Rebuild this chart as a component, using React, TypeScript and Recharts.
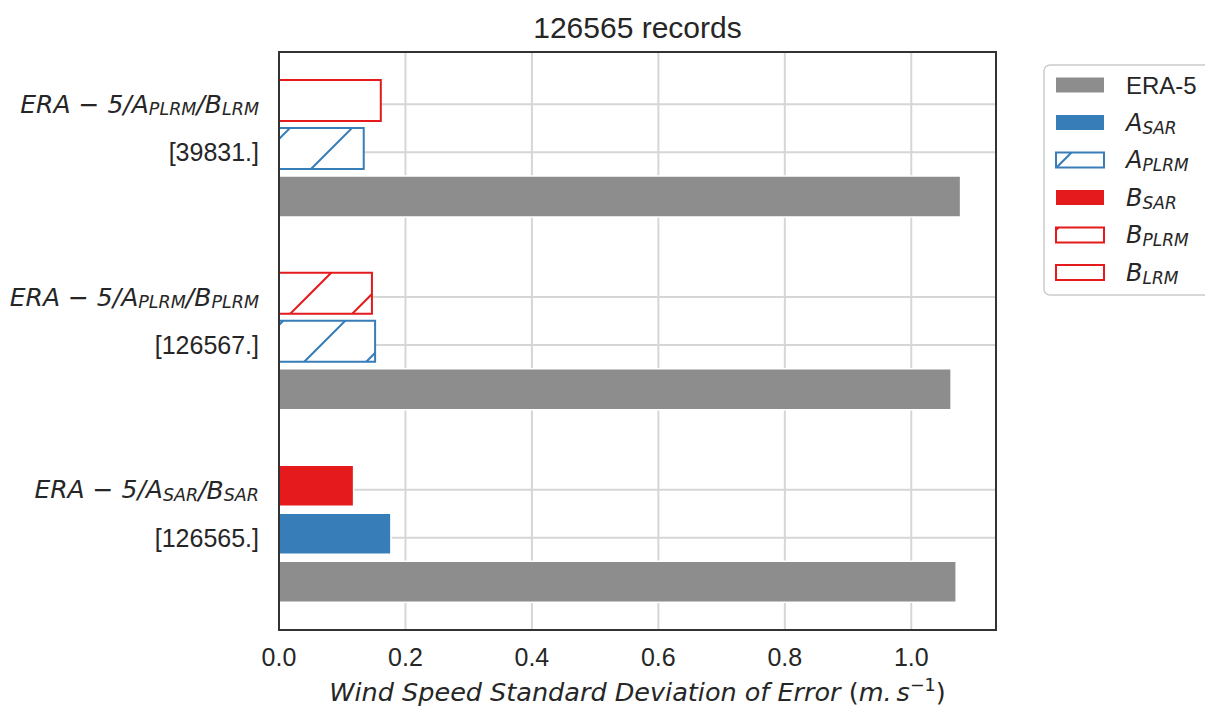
import React from 'react';
import { BarChart, Bar, XAxis, YAxis, CartesianGrid, Cell, Customized } from 'recharts';

const W = 1205;
const H = 706;
const PLOT_LEFT = 279;
const PLOT_TOP = 52;
const PLOT_RIGHT = 996;
const PLOT_BOTTOM = 630;

const TEXT_FONT = "'Liberation Sans', Arial, sans-serif";
const MATH_FONT = "'DejaVu Sans', sans-serif";
const INK = '#262626';
const GREY = '#8d8d8d';
const BLUE = '#377eb8';
const RED = '#e41a1c';
const GRID = '#d6d6d6';

// categories (top to bottom) and the values
const categories = ['PLRM/LRM', 'PLRM/PLRM', 'SAR/SAR'];
const aMethods = ['PLRM', 'PLRM', 'SAR'];
const bMethods = ['LRM', 'PLRM', 'SAR'];
const recordCounts = ['[39831.]', '[126567.]', '[126565.]'];
const eraValues = [1.078, 1.063, 1.071];
const aValues = [0.134, 0.152, 0.177];
const bValues = [0.161, 0.147, 0.118];
const xTicks = [0, 0.2, 0.4, 0.6, 0.8, 1.0];
const X_MAX = 1.134;

const legendItems = [
  { base: 'ERA-5', sub: '', kind: 'era' },
  { base: 'A', sub: 'SAR', kind: 'aSAR' },
  { base: 'A', sub: 'PLRM', kind: 'aPLRM' },
  { base: 'B', sub: 'SAR', kind: 'bSAR' },
  { base: 'B', sub: 'PLRM', kind: 'bPLRM' },
  { base: 'B', sub: 'LRM', kind: 'bLRM' },
];

const data = categories.map((cat, i) => ({
  cat,
  era: eraValues[i],
  a: aValues[i],
  b: bValues[i],
}));

// fill / stroke for each kind of bar
const styleFor = (kind: string) => {
  switch (kind) {
    case 'era':
      return { fill: GREY, stroke: '#ffffff', strokeWidth: 1.5 };
    case 'aSAR':
      return { fill: BLUE, stroke: '#ffffff', strokeWidth: 1.5 };
    case 'aPLRM':
      return { fill: 'url(#hatchBlue)', stroke: BLUE, strokeWidth: 2 };
    case 'bSAR':
      return { fill: RED, stroke: '#ffffff', strokeWidth: 1.5 };
    case 'bPLRM':
      return { fill: 'url(#hatchRed)', stroke: RED, strokeWidth: 2 };
    default:
      return { fill: '#ffffff', stroke: RED, strokeWidth: 2 };
  }
};

const band = (PLOT_BOTTOM - PLOT_TOP) / categories.length;
const gridRows = categories.flatMap((_, i) => {
  const mid = PLOT_TOP + band * (i + 0.5);
  return [mid - 44, mid + 4];
});

const YTick = (props: any) => {
  const { x, y, payload } = props;
  const i = categories.indexOf(payload.value);
  return (
    <g>
      <text x={x} y={y - 44} textAnchor="end" dominantBaseline="central" fontFamily={MATH_FONT}
        fontStyle="italic" fontSize={25} fill={INK}>
        ERA − 5/A<tspan dy={5} fontSize={17.5}>{aMethods[i]}</tspan>
        <tspan dy={-5}>/B</tspan>
        <tspan dy={5} fontSize={17.5}>{bMethods[i]}</tspan>
      </text>
      <text x={x} y={y + 4} textAnchor="end" dominantBaseline="central" fontFamily={TEXT_FONT}
        fontSize={25} fill={INK}>
        {recordCounts[i]}
      </text>
    </g>
  );
};

const XTick = (props: any) => {
  const { x, payload } = props;
  return (
    <text x={x} y={PLOT_BOTTOM + 36} textAnchor="middle" fontFamily={TEXT_FONT} fontSize={25} fill={INK}>
      {Number(payload.value).toFixed(1)}
    </text>
  );
};

const hatchPath = 'M-2,48 L48,-2 M44,64 L64,44';

const Patterns = () => (
  <defs>
    <pattern id="hatchBlue" patternUnits="userSpaceOnUse" width={62} height={62}>
      <rect width={62} height={62} fill="#ffffff" />
      <path d={hatchPath} stroke={BLUE} strokeWidth={2} />
    </pattern>
    <pattern id="hatchRed" patternUnits="userSpaceOnUse" width={62} height={62}>
      <rect width={62} height={62} fill="#ffffff" />
      <path d={hatchPath} stroke={RED} strokeWidth={2} />
    </pattern>
  </defs>
);

const Texts = () => (
  <g>
    <text x={(PLOT_LEFT + PLOT_RIGHT) / 2} y={38} textAnchor="middle" fontFamily={TEXT_FONT}
      fontSize={30} fill={INK}>
      126565 records
    </text>
    <text x={(PLOT_LEFT + PLOT_RIGHT) / 2} y={701} textAnchor="middle" fontFamily={MATH_FONT}
      fontStyle="italic" fontSize={25.5} fill={INK}>
      Wind Speed Standard Deviation of Error <tspan fontStyle="normal">(</tspan>m.<tspan dx={5}>s</tspan>
      <tspan dy={-10} fontSize={17.5} fontStyle="normal">−1</tspan>
      <tspan dy={10} fontStyle="normal">)</tspan>
    </text>
  </g>
);

const LegendBox = () => (
  <g>
    <rect x={1044} y={65} width={200} height={230} rx={6} fill="#ffffff" stroke="#cccccc" strokeWidth={1.5} />
    {legendItems.map((item, i) => {
      const cy = 85 + i * 37.5;
      const s = styleFor(item.kind);
      return (
        <g key={item.kind}>
          <rect x={1056} y={cy - 7.5} width={48} height={15} fill={s.fill}
            stroke={s.stroke === '#ffffff' ? 'none' : s.stroke} strokeWidth={s.strokeWidth} />
          {item.sub ? (
            <text x={1126} y={cy} dominantBaseline="central" fontFamily={MATH_FONT} fontStyle="italic"
              fontSize={24} fill={INK}>
              {item.base}
              <tspan dy={5} fontSize={17}>{item.sub}</tspan>
            </text>
          ) : (
            <text x={1126} y={cy} dominantBaseline="central" fontFamily={TEXT_FONT} fontSize={24} fill={INK}>
              {item.base}
            </text>
          )}
        </g>
      );
    })}
  </g>
);

export default function App() {
  return (
    <div style={{ position: 'absolute', left: 0, top: 0, width: W, height: H, background: '#ffffff' }}>
      <BarChart
        width={W}
        height={H}
        data={data}
        layout="vertical"
        margin={{ top: PLOT_TOP, right: W - PLOT_RIGHT, bottom: 0, left: 0 }}
        barSize={41}
        barGap={7}
      >
        <Customized component={<Patterns />} />
        <CartesianGrid stroke={GRID} strokeWidth={2} vertical horizontal horizontalPoints={gridRows} />
        <XAxis
          type="number"
          domain={[0, X_MAX]}
          ticks={xTicks}
          allowDataOverflow
          height={H - PLOT_BOTTOM}
          axisLine={false}
          tickLine={false}
          tick={<XTick />}
        />
        <YAxis
          type="category"
          dataKey="cat"
          width={PLOT_LEFT}
          axisLine={false}
          tickLine={false}
          tickSize={0}
          tickMargin={20}
          interval={0}
          tick={<YTick />}
        />
        <Bar dataKey="b" isAnimationActive={false}>
          {bMethods.map((m, i) => {
            const s = styleFor('b' + m);
            return <Cell key={i} fill={s.fill} stroke={s.stroke} strokeWidth={s.strokeWidth} />;
          })}
        </Bar>
        <Bar dataKey="a" isAnimationActive={false}>
          {aMethods.map((m, i) => {
            const s = styleFor('a' + m);
            return <Cell key={i} fill={s.fill} stroke={s.stroke} strokeWidth={s.strokeWidth} />;
          })}
        </Bar>
        <Bar dataKey="era" isAnimationActive={false}>
          {eraValues.map((_, i) => {
            const s = styleFor('era');
            return <Cell key={i} fill={s.fill} stroke={s.stroke} strokeWidth={s.strokeWidth} />;
          })}
        </Bar>
        <Customized component={<Texts />} />
        <Customized component={<LegendBox />} />
      </BarChart>
      {/* plot frame drawn above the bars */}
      <svg width={W} height={H} style={{ position: 'absolute', left: 0, top: 0, pointerEvents: 'none' }}>
        <rect x={PLOT_LEFT} y={PLOT_TOP} width={PLOT_RIGHT - PLOT_LEFT} height={PLOT_BOTTOM - PLOT_TOP}
          fill="none" stroke="#333333" strokeWidth={2} />
      </svg>
    </div>
  );
}
